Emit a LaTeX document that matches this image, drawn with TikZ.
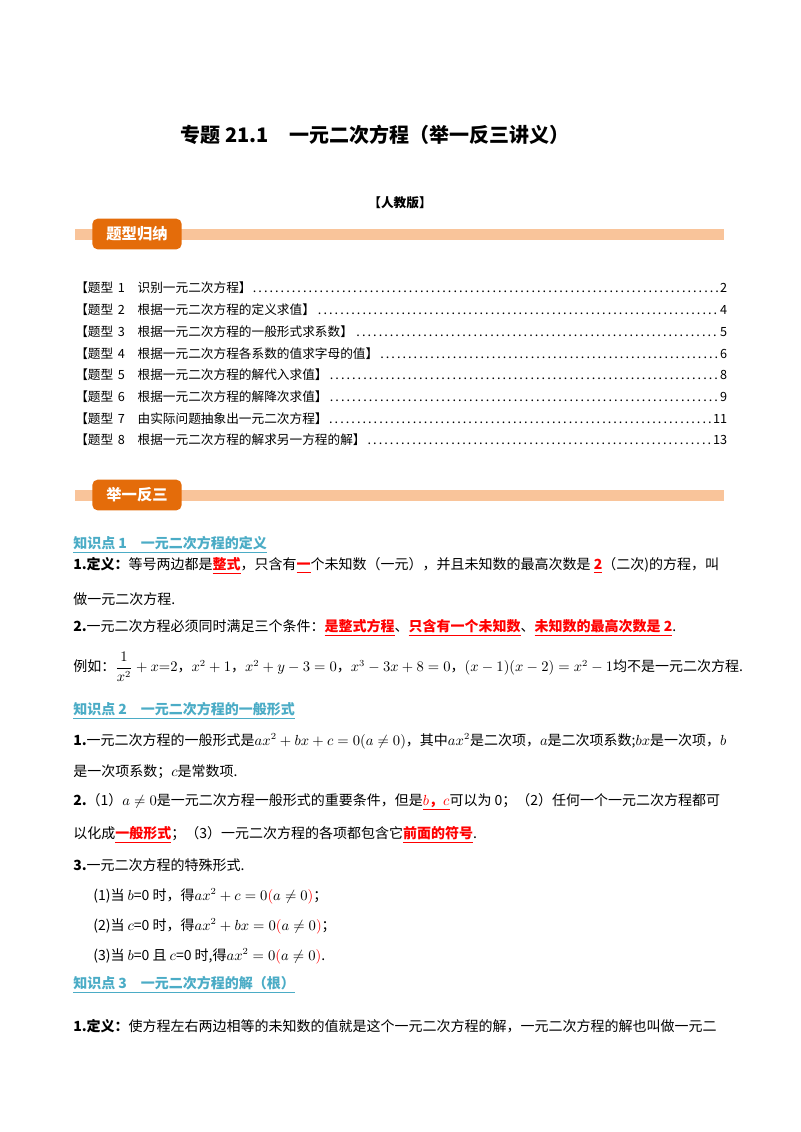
\documentclass[tikz,border=0pt]{standalone}
\usepackage{amsmath}
\usepackage{fontspec}
\setmainfont{Noto Sans CJK SC}
\newfontfamily\ser{Liberation Serif}
\definecolor{bar}{HTML}{F9C49A}
\definecolor{box}{HTML}{E46C0A}
\definecolor{kp}{HTML}{4BACC6}
\newcommand{\ru}[1]{\textcolor{red}{\underline{\textbf{#1}}}}
\newcommand{\kpt}[1]{\textcolor{kp}{\underline{\textbf{#1}}}}
\newcommand{\rd}[1]{\textcolor{red}{#1}}
\tikzset{ln/.style={anchor=west,inner sep=0pt,font=\fontsize{10.5pt}{12pt}\selectfont},
 toc/.style={ln,text width=489pt},
 bannerbox/.style={fill=box,rounded corners=4pt,text=white,font=\bfseries\fontsize{11.5pt}{12pt}\selectfont,minimum width=67pt,minimum height=23pt,inner sep=0pt}}
\begin{document}
\begin{tikzpicture}[x=0.75pt,y=-0.75pt]
\fill[white] (0,0) rectangle (800,1132);
\node[font=\bfseries\fontsize{15pt}{16pt}\selectfont] (title) at (375,135) {专题 21.1\quad 一元二次方程（举一反三讲义）};
\node[font=\bfseries\fontsize{9.5pt}{10pt}\selectfont] (ed) at (400,203) {【人教版】};
\fill[bar] (75,229) rectangle (724,240);
\node[bannerbox] (b1) at (137,234) {题型归纳};
\fill[bar] (75,490) rectangle (724,501);
\node[bannerbox] (b2) at (137,495) {举一反三};
\foreach \y/\n/\t/\p in {288/1/识别一元二次方程/2, 310/2/根据一元二次方程的定义求值/4, 332/3/根据一元二次方程的一般形式求系数/5, 354/4/根据一元二次方程各系数的值求字母的值/6, 375/5/根据一元二次方程的解代入求值/8, 397/6/根据一元二次方程的解降次求值/9, 419/7/由实际问题抽象出一元二次方程/11, 440/8/根据一元二次方程的解求另一方程的解/13}
 {\node[toc] at (75,\y) {\fontsize{9.5pt}{11pt}\selectfont\hbox to 489pt{【题型 \n\quad \t】\dotfill\p}};}
\node[ln] (k1) at (73,545) {\kpt{知识点 1\quad 一元二次方程的定义}};
\node[ln] (l1) at (73,566) {\textbf{1.定义：}等号两边都是\ru{整式}，只含有\ru{一}个未知数（一元），并且未知数的最高次数是 \ru{2}（二次)的方程，叫};
\node[ln] (l2) at (73,599) {做一元二次方程.};
\node[ln] (l3) at (73,628) {\textbf{2.}一元二次方程必须同时满足三个条件：\ru{是整式方程}、\ru{只含有一个未知数}、\ru{未知数的最高次数是 2}.};
\node[ln] (l4) at (73,667) {例如：$\dfrac{1}{x^2}+x{=}2$，$x^2+1$，$x^2+y-3=0$，$x^3-3x+8=0$，$(x-1)(x-2)=x^2-1$均不是一元二次方程.};
\node[ln] (k2) at (73,711) {\kpt{知识点 2\quad 一元二次方程的一般形式}};
\node[ln] (m1) at (73,741) {\textbf{1.}一元二次方程的一般形式是$ax^2+bx+c=0(a\neq0)$，其中$ax^2$是二次项，$a$是二次项系数;$bx$是一次项，$b$};
\node[ln] (m2) at (73,772) {是一次项系数；$c$是常数项.};
\node[ln] (m3) at (73,802) {\textbf{2.}（1）$a\neq0$是一元二次方程一般形式的重要条件，但是\ru{$b$，$c$}可以为 0；（2）任何一个一元二次方程都可};
\node[ln] (m4) at (73,835) {以化成\ru{一般形式}；（3）一元二次方程的各项都包含它\ru{前面的符号}.};
\node[ln] (m5) at (73,865) {\textbf{3.}一元二次方程的特殊形式.};
\node[ln] (m6) at (93,896) {(1)当 $b$=0 时，得$ax^2+c=0\rd{(}a\neq0\rd{)}$；};
\node[ln] (m7) at (93,926) {(2)当 $c$=0 时，得$ax^2+bx=0\rd{(}a\neq0\rd{)}$；};
\node[ln] (m8) at (93,956) {(3)当 $b$=0 且 $c$=0 时,得$ax^2=0\rd{(}a\neq0\rd{)}$.};
\node[ln] (k3) at (73,985) {\kpt{知识点 3\quad 一元二次方程的解（根）}};
\node[ln] (n1) at (73,1026) {\textbf{1.定义：}使方程左右两边相等的未知数的值就是这个一元二次方程的解，一元二次方程的解也叫做一元二};
\end{tikzpicture}
\end{document}
